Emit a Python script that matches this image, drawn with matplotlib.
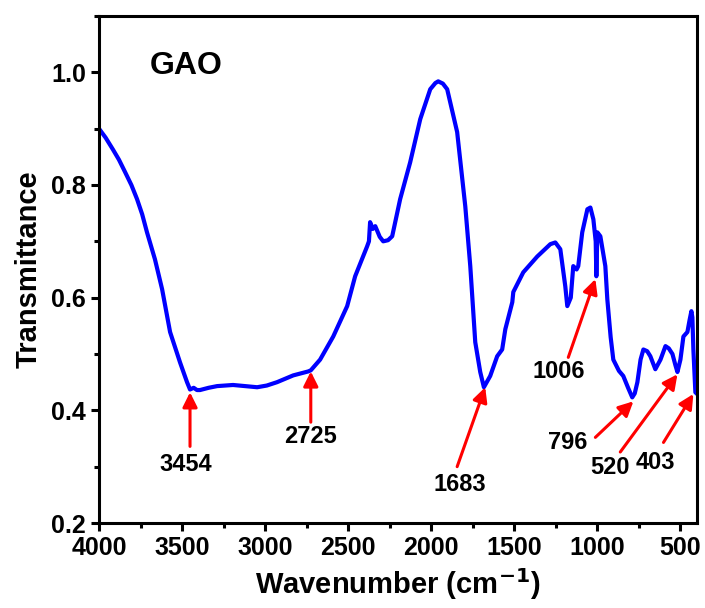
import matplotlib
matplotlib.use("Agg")
import matplotlib.pyplot as plt
from matplotlib.ticker import MultipleLocator

plt.rcParams['font.family'] = ['Liberation Sans', 'DejaVu Sans']
plt.rcParams['font.weight'] = 'bold'

# FTIR spectrum
wavenumber = [4000, 3960, 3916, 3880, 3843, 3805, 3771, 3740, 3711, 3663, 3620, 3572, 3512, 3470, 3452, 3430,
              3410, 3392, 3340, 3289, 3193, 3120, 3048, 2990, 2928, 2831, 2741, 2725,
              2669, 2590, 2506, 2458, 2386, 2375, 2368, 2352, 2337, 2310, 2289, 2260,
              2235, 2187, 2127, 2066, 2006, 1975, 1958, 1930, 1904, 1844, 1795, 1765, 1735,
              1705, 1683, 1645, 1603, 1573, 1554, 1512, 1506, 1446, 1362, 1283, 1253,
              1223, 1193, 1181, 1160, 1145, 1125, 1115, 1091, 1060, 1042, 1024, 1010,
              1006, 1000, 982, 952, 940, 920, 904, 870, 844, 815, 790, 775, 759, 740,
              723, 700, 681, 651, 620, 590, 570, 548, 530, 518, 500, 482, 458, 445,
              434, 428, 422, 410, 403]
transmittance = [0.900, 0.884, 0.863, 0.845, 0.823, 0.800, 0.775, 0.748, 0.716, 0.668, 0.615, 0.539, 0.485, 0.450, 0.437, 0.440,
                 0.436, 0.436, 0.440, 0.443, 0.445, 0.443, 0.441, 0.444, 0.450, 0.462, 0.469, 0.471,
                 0.490, 0.531, 0.585, 0.638, 0.691, 0.700, 0.734, 0.722, 0.727, 0.708, 0.700, 0.702,
                 0.709, 0.775, 0.840, 0.917, 0.970, 0.981, 0.984, 0.980, 0.970, 0.894, 0.762, 0.656, 0.521,
                 0.468, 0.441, 0.461, 0.496, 0.508, 0.544, 0.592, 0.610, 0.645, 0.673, 0.695, 0.698,
                 0.686, 0.620, 0.585, 0.600, 0.656, 0.650, 0.656, 0.716, 0.757, 0.760, 0.739, 0.700,
                 0.638, 0.716, 0.709, 0.656, 0.597, 0.530, 0.490, 0.470, 0.461, 0.440, 0.423, 0.430,
                 0.450, 0.490, 0.508, 0.505, 0.496, 0.473, 0.490, 0.514, 0.510, 0.500, 0.480, 0.468,
                 0.490, 0.531, 0.539, 0.560, 0.576, 0.565, 0.508, 0.432, 0.430]

peak_labels = ['3454', '2725', '1683', '1006', '796', '520', '403']
# arrow tip, arrow tail, label position (wavenumber, transmittance)
arrow_tip = [(3452, 0.432), (2725, 0.469), (1675, 0.441), (1012, 0.633),
             (783, 0.416), (518, 0.464), (422, 0.429)]
arrow_tail = [(3452, 0.336), (2725, 0.379), (1844, 0.300), (1175, 0.494),
              (1012, 0.352), (862, 0.326), (602, 0.343)]
label_pos = [(3478, 0.304), (2725, 0.354), (1825, 0.269), (1235, 0.469),
             (1181, 0.343), (922, 0.299), (650, 0.308)]

fig = plt.figure(figsize=(7.05, 6.08), dpi=100)
ax = fig.add_axes([0.1404, 0.1398, 0.8483, 0.8339])

ax.plot(wavenumber, transmittance, color='#0000ff', lw=3)

for lab, tip, tail, pos in zip(peak_labels, arrow_tip, arrow_tail, label_pos):
    ax.annotate('', xy=tip, xytext=tail,
                arrowprops=dict(arrowstyle='-|>', color='red', lw=2.2,
                                mutation_scale=22, shrinkA=0, shrinkB=0))
    ax.text(pos[0], pos[1], lab, ha='center', va='center', fontsize=17,
            fontweight='bold')

ax.text(0.085, 0.93, 'GAO', transform=ax.transAxes, fontsize=23,
        fontweight='bold', va='top', ha='left')

ax.set_xlim(4000, 400)
ax.set_ylim(0.2, 1.1)
ax.xaxis.set_major_locator(MultipleLocator(500))
ax.xaxis.set_minor_locator(MultipleLocator(250))
ax.yaxis.set_major_locator(MultipleLocator(0.2))
ax.yaxis.set_minor_locator(MultipleLocator(0.1))
ax.set_yticks([0.2, 0.4, 0.6, 0.8, 1.0])

for s in ax.spines.values():
    s.set_linewidth(2.2)
ax.tick_params(which='major', direction='out', length=6, width=2.2, labelsize=18)
ax.tick_params(which='minor', direction='out', length=3.5, width=2.2)
for t in ax.get_xticklabels() + ax.get_yticklabels():
    t.set_fontweight('bold')

ax.set_xlabel('Wavenumber (cm$^{\\mathbf{-1}}$)', fontsize=21, fontweight='bold', labelpad=4)
ax.set_ylabel('Transmittance', fontsize=21, fontweight='bold', labelpad=6)

fig.savefig('out.png', dpi=100)
